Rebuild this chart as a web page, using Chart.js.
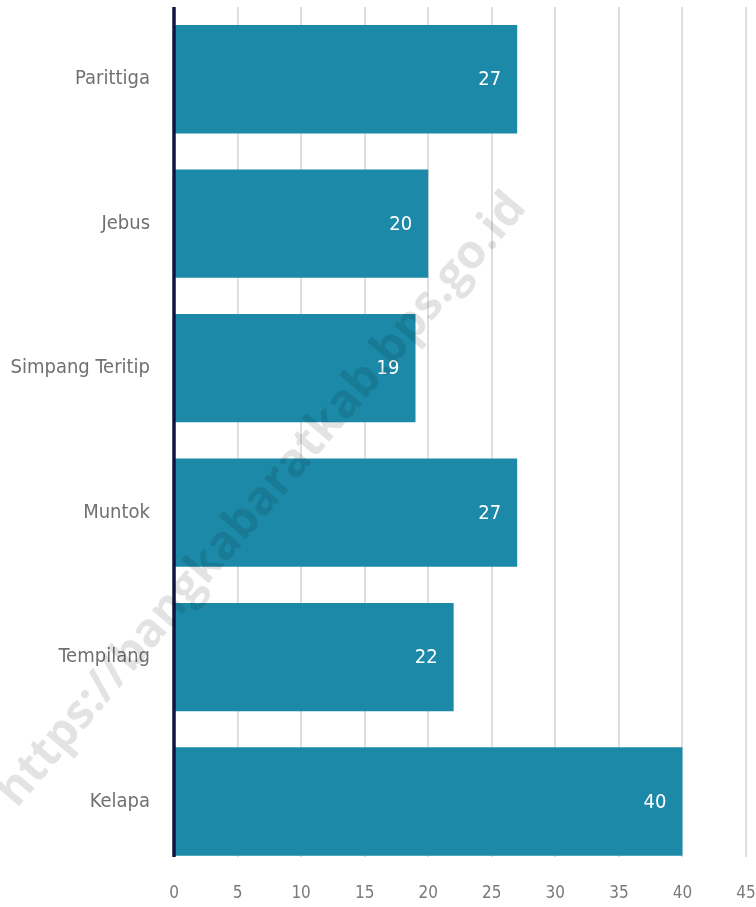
<!DOCTYPE html>
<html>
<head>
<meta charset="utf-8">
<script src="https://cdn.jsdelivr.net/npm/chart.js@4.4.0/dist/chart.umd.min.js"></script>
<style>
  html, body { margin: 0; padding: 0; background: #fff; }
  #wrap { width: 756px; height: 907px; }
</style>
</head>
<body>
<div id="wrap"><canvas id="chart" width="756" height="907"></canvas></div>
<script>
var categories = ["Parittiga", "Jebus", "Simpang Teritip", "Muntok", "Tempilang", "Kelapa"];
var values = [27, 20, 19, 27, 22, 40];
var xTicks = [0, 5, 10, 15, 20, 25, 30, 35, 40, 45];
var watermark = "https://bangkabaratkab.bps.go.id";

var BAR_COLOR = "#1b89a7";
var LABEL_FONT = "'Liberation Sans Narrow', 'DejaVu Sans Condensed', 'Roboto', sans-serif";

// fixed axis sizes, no extra room for overhanging tick labels
function fixSize(prop, size) {
  return function (scale) {
    scale[prop] = size;
    scale.paddingTop = scale.paddingBottom = 0;
    scale.paddingLeft = scale.paddingRight = 0;
  };
}

// value labels drawn inside the end of each bar
var barLabels = {
  id: "barLabels",
  afterDatasetsDraw: function (chart) {
    var ctx = chart.ctx;
    var meta = chart.getDatasetMeta(0);
    ctx.save();
    ctx.fillStyle = "#ffffff";
    ctx.font = "20px " + LABEL_FONT;
    ctx.textAlign = "right";
    ctx.textBaseline = "middle";
    meta.data.forEach(function (bar, i) {
      ctx.fillText(String(values[i]), bar.x - 16, bar.y + 1);
    });
    ctx.restore();
  }
};

// zero line on top of the bars, then the faint diagonal watermark
var overlay = {
  id: "overlay",
  afterDatasetsDraw: function (chart) {
    var ctx = chart.ctx;
    var area = chart.chartArea;
    var x0 = chart.scales.x.getPixelForValue(0);
    ctx.save();
    ctx.strokeStyle = "#12143f";
    ctx.lineWidth = 3.5;
    ctx.beginPath();
    ctx.moveTo(x0, area.top);
    ctx.lineTo(x0, area.bottom);
    ctx.stroke();

    ctx.translate(262, 500);
    ctx.rotate(-49.6 * Math.PI / 180);
    ctx.fillStyle = "rgba(0, 0, 0, 0.11)";
    ctx.font = "bold 47px 'Open Sans', 'DejaVu Sans', sans-serif";
    ctx.textAlign = "center";
    ctx.textBaseline = "middle";
    ctx.fillText(watermark, 0, 0);
    ctx.restore();
  }
};

new Chart(document.getElementById("chart").getContext("2d"), {
  type: "bar",
  data: {
    datasets: [{
      data: values.map(function (v, i) { return { x: v, y: i }; }),
      backgroundColor: BAR_COLOR,
      borderWidth: 0,
      categoryPercentage: 1,
      barPercentage: 0.75
    }]
  },
  options: {
    indexAxis: "y",
    responsive: false,
    animation: false,
    layout: { autoPadding: false, padding: { top: 7, right: 10, left: 0, bottom: 0 } },
    plugins: {
      legend: { display: false },
      tooltip: { enabled: false }
    },
    scales: {
      x: {
        type: "linear",
        offset: false,
        min: xTicks[0],
        max: xTicks[xTicks.length - 1],
        afterBuildTicks: function (scale) {
          scale.ticks = xTicks.map(function (v) { return { value: v }; });
        },
        afterFit: fixSize("height", 50),
        grid: { color: "#dedede", lineWidth: 2, drawTicks: false, offset: false },
        border: { display: false },
        ticks: {
          padding: 26,
          color: "#7a7a7a",
          font: { family: LABEL_FONT, size: 17 }
        }
      },
      y: {
        type: "linear",
        offset: false,
        reverse: true,
        min: -0.5,
        max: categories.length - 1 + 0.384,
        afterBuildTicks: function (scale) {
          scale.ticks = categories.map(function (c, i) { return { value: i }; });
        },
        afterFit: fixSize("width", 174),
        grid: { display: false, drawTicks: false, offset: false },
        border: { display: false },
        ticks: {
          padding: 24,
          color: "#707070",
          font: { family: LABEL_FONT, size: 20 },
          callback: function (v) { return categories[v]; }
        }
      }
    }
  },
  plugins: [barLabels, overlay]
});
</script>
</body>
</html>
